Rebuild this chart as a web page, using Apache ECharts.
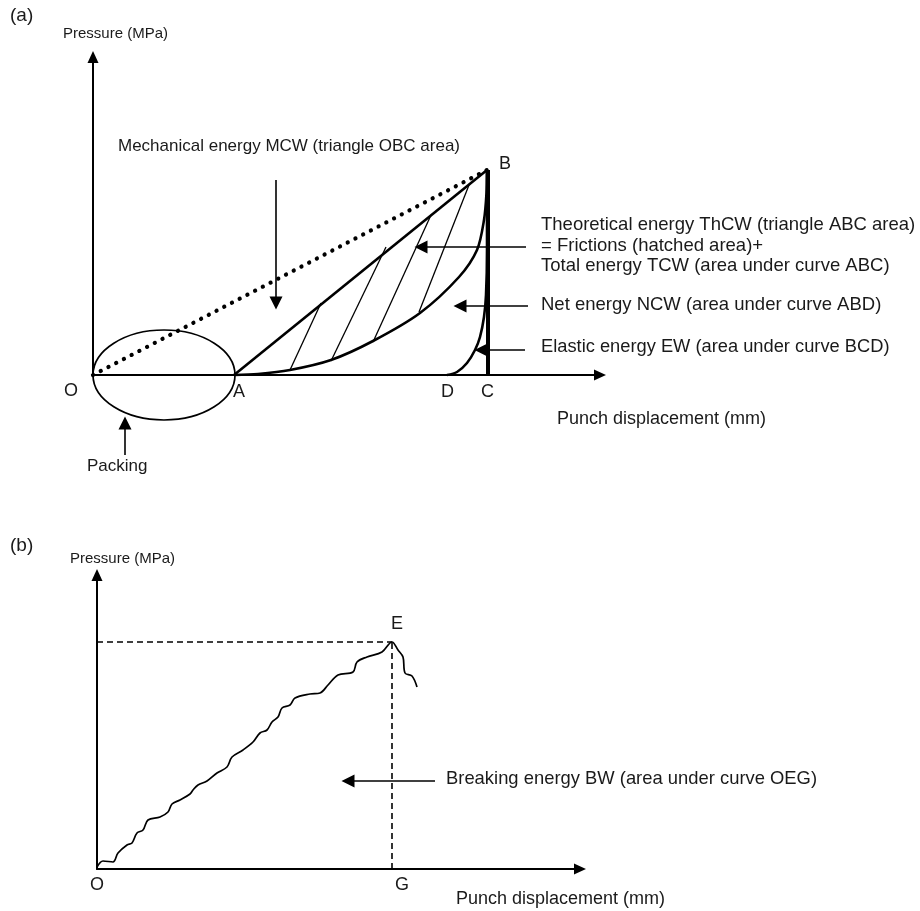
<!DOCTYPE html>
<html lang="en">
<head>
    <meta charset="UTF-8">
    <title>Compaction energy diagram</title>
    <script src="https://cdn.jsdelivr.net/npm/echarts@6/dist/echarts.min.js"></script>
    <style>
        html, body { margin: 0; padding: 0; background: #fff; }
        #chart { width: 920px; height: 911px; }
    </style>
</head>
<body>
    <div id="chart"></div>
    <script>
        // 面板 (a) 数据（任意单位，从图上读出）
        let aAxisMax = [507, 318];
        let pointO = [0, 0];
        let pointA = [141, 0];
        let pointB = [394, 205];
        let pointC = [395, 0];
        // 曲线 AB（下方的弯曲曲线）
        let curveAB = [[141, 0], [165, 1], [197, 5], [238, 15], [280, 34], [327, 62], [366, 98], [384, 125], [391, 155], [393.5, 182], [394, 205]];
        // 曲线 DB（弹性回复）
        let curveDB = [[354, 0], [364, 3], [374, 12], [382, 25], [387, 38], [391, 58], [393, 80], [394, 125], [394, 205]];
        // 阴影线
        let hatchLines = [
            [[197, 5], [228, 72]],
            [[238, 14], [293, 128]],
            [[280, 33], [338, 160]],
            [[326, 63], [376, 190]]
        ];
        // 堆积区 (椭圆): 中心x, 中心y, 半径x, 半径y
        let packing = [71, 0, 71, 45];
        // 注释箭头
        let arrowsA = [
            [[183, 195], [183, 72]],
            [[433, 128], [328, 128]],
            [[435, 69], [367, 69]],
            [[432, 25], [388, 25]],
            [[32, -80], [32, -48]]
        ];

        // 面板 (b) 数据
        let bAxisMax = [483, 294];
        let pointE = [295, 227];
        let breakCurve = [
            [0, 2], [6, 8], [16, 7], [21, 16], [30, 24], [35, 26], [40, 36], [46, 39],
            [51, 49], [63, 52], [71, 57], [75, 65], [83, 69], [93, 75], [96, 79],
            [101, 84], [110, 88], [120, 96], [130, 102], [135, 112], [146, 119],
            [156, 127], [163, 136], [170, 139], [175, 147], [181, 152], [185, 161],
            [193, 164], [198, 171], [213, 175], [223, 176], [231, 184], [241, 194],
            [256, 197], [260, 207], [270, 212], [285, 217], [295, 227], [301, 219],
            [306, 212], [308, 196], [315, 193], [320, 182]
        ];
        let arrowsB = [
            [[338, 88], [251, 88]]
        ];

        let font = 'Liberation Sans, Arial, sans-serif';

        function txt(text, x, y, size) {
            return {
                type: 'text', left: x, top: y - size * 0.6,
                style: { text: text, font: size + 'px ' + font, fill: '#1a1a1a' }
            };
        }

        function axisPair(idx, max) {
            let common = {
                type: 'value', gridIndex: idx, min: 0,
                axisLine: { show: true, onZero: false, symbol: ['none', 'triangle'], symbolSize: [11, 12], lineStyle: { color: '#000', width: 2 } },
                axisTick: { show: false }, axisLabel: { show: false }, splitLine: { show: false }
            };
            return [Object.assign({}, common, { max: max[0] }), Object.assign({}, common, { max: max[1] })];
        }

        let ax = axisPair(0, aAxisMax);
        let bx = axisPair(1, bAxisMax);

        function arrowSeries(data, i) {
            return {
                type: 'lines', coordinateSystem: 'cartesian2d', xAxisIndex: i, yAxisIndex: i,
                clip: false, silent: true,
                symbol: ['none', 'triangle'], symbolSize: [11, 13],
                lineStyle: { color: '#000', width: 1.6, opacity: 1 },
                data: data.map(c => ({ coords: c }))
            };
        }

        function lineSeries(data, i, style, smooth) {
            return {
                type: 'line', xAxisIndex: i, yAxisIndex: i, data: data,
                symbol: 'none', clip: false, silent: true, smooth: smooth || false,
                lineStyle: Object.assign({ color: '#000' }, style)
            };
        }

        let chart = echarts.init(document.getElementById('chart'));
        chart.setOption({
            animation: false,
            backgroundColor: '#fff',
            grid: [
                { left: 93, top: 57, width: 507, height: 318 },
                { left: 97, top: 575, width: 483, height: 294 }
            ],
            xAxis: [ax[0], bx[0]],
            yAxis: [ax[1], bx[1]],
            series: [
                // OB 点线
                lineSeries([pointO, pointB], 0, { width: 4.2, type: [0.1, 8.6], cap: 'round' }),
                // AB 直线
                lineSeries([pointA, pointB], 0, { width: 2.6 }),
                // AB 曲线
                lineSeries(curveAB, 0, { width: 2.6 }, 0.3),
                // DB 曲线
                lineSeries(curveDB, 0, { width: 2.6 }, 0.3),
                // BC 竖线
                lineSeries([pointC, [pointC[0], pointB[1]]], 0, { width: 4 }),
                // 阴影线
                {
                    type: 'lines', coordinateSystem: 'cartesian2d', xAxisIndex: 0, yAxisIndex: 0,
                    clip: false, silent: true,
                    lineStyle: { color: '#000', width: 1.3, opacity: 1 },
                    data: hatchLines.map(c => ({ coords: c }))
                },
                // 椭圆
                {
                    type: 'custom', xAxisIndex: 0, yAxisIndex: 0, clip: false, silent: true,
                    data: [packing],
                    renderItem: function (params, api) {
                        let c = api.coord([api.value(0), api.value(1)]);
                        let s = api.size([api.value(2), api.value(3)]);
                        return {
                            type: 'ellipse',
                            shape: { cx: c[0], cy: c[1], rx: s[0], ry: s[1] },
                            style: { fill: 'none', stroke: '#000', lineWidth: 1.7 }
                        };
                    }
                },
                arrowSeries(arrowsA, 0),
                // 面板 (b)
                lineSeries([[0, pointE[1]], pointE], 1, { width: 1.6, type: [6, 4] }),
                lineSeries([[pointE[0], 0], pointE], 1, { width: 1.6, type: [6, 4] }),
                lineSeries(breakCurve, 1, { width: 1.7 }, 0.35),
                arrowSeries(arrowsB, 1)
            ],
            graphic: [
                txt('(a)', 10, 18, 19),
                txt('Pressure (MPa)', 63, 35, 15),
                txt('Mechanical energy MCW (triangle OBC area)', 118, 148, 17),
                txt('B', 499, 166, 18),
                txt('Theoretical energy ThCW (triangle ABC area)', 541, 227, 18.5),
                txt('= Frictions (hatched area)+', 541, 248, 18.5),
                txt('Total energy TCW (area under curve ABC)', 541, 268, 18.5),
                txt('Net energy NCW (area under curve ABD)', 541, 307, 18.5),
                txt('Elastic energy EW (area under curve BCD)', 541, 349, 18.3),
                txt('O', 64, 393, 18),
                txt('A', 233, 394, 18),
                txt('D', 441, 394, 18),
                txt('C', 481, 394, 18),
                txt('Punch displacement (mm)', 557, 421, 18),
                txt('Packing', 87, 468, 17),
                txt('(b)', 10, 548, 19),
                txt('Pressure (MPa)', 70, 560, 15),
                txt('E', 391, 626, 18),
                txt('Breaking energy BW (area under curve OEG)', 446, 781, 18.4),
                txt('O', 90, 887, 18),
                txt('G', 395, 887, 18),
                txt('Punch displacement (mm)', 456, 901, 18)
            ]
        });
    </script>
</body>
</html>
